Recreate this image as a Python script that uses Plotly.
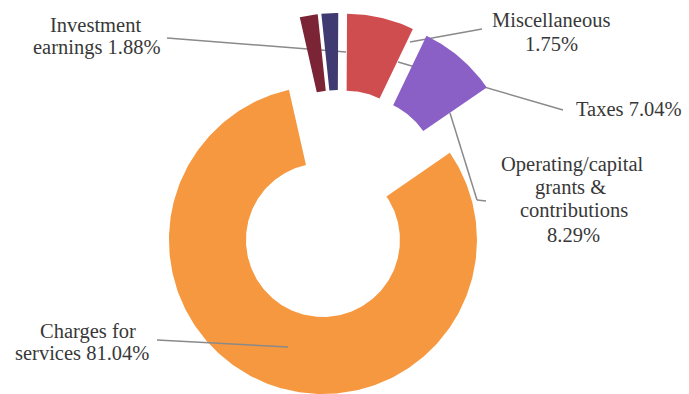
import math
import plotly.graph_objects as go

# Revenue sources, in the order the ring is drawn (clockwise)
categories = [
    "Charges for services",
    "Investment earnings",
    "Miscellaneous",
    "Taxes",
    "Operating/capital grants & contributions",
]
shares = [81.04, 1.88, 1.75, 7.04, 8.29]

# Label text lines for each slice
label_lines = {
    "Charges for services": ["Charges for", "services 81.04%"],
    "Investment earnings": ["Investment", "earnings 1.88%"],
    "Miscellaneous": ["Miscellaneous", "1.75%"],
    "Taxes": ["Taxes 7.04%"],
    "Operating/capital grants & contributions": ["Operating/capital", "grants &", "contributions", "8.29%"],
}

# ---- styling / layout -------------------------------------------------------
colors = ["#F6983F", "#7A2435", "#3F3A72", "#CF4D4F", "#8A60C6"]
explode = [0.286, 0.208, 0.208, 0.208, 0.208]   # offset along the slice bisector, in outer radii
hole = 0.5
start_angle = 55.5                              # degrees clockwise from 12 o'clock

W, H = 689, 394
CX, CY, RPX = 339, 199, 154                     # pie centre and outer radius in pixels

x_range = [-CX / RPX, (W - CX) / RPX]
y_range = [-(H - CY) / RPX, CY / RPX]


def to_data(px, py):
    return (px - CX) / RPX, (CY - py) / RPX


def ring_slice(a0, a1, dx, dy, n):
    xs, ys = [], []
    for i in range(n + 1):
        a = math.radians(a0 + (a1 - a0) * i / n)
        xs.append(dx + math.sin(a))
        ys.append(dy + math.cos(a))
    for i in range(n + 1):
        a = math.radians(a1 - (a1 - a0) * i / n)
        xs.append(dx + hole * math.sin(a))
        ys.append(dy + hole * math.cos(a))
    xs.append(xs[0])
    ys.append(ys[0])
    return xs, ys


fig = go.Figure()

total = sum(shares)
angle = start_angle
for name, val, col, pull in zip(categories, shares, colors, explode):
    span = val / total * 360.0
    mid = math.radians(angle + span / 2)
    dx, dy = pull * math.sin(mid), pull * math.cos(mid)
    xs, ys = ring_slice(angle, angle + span, dx, dy, max(8, int(span)))
    fig.add_trace(go.Scatter(
        x=xs, y=ys, mode="lines", fill="toself",
        fillcolor=col, line=dict(width=0, color=col),
        name=name, hoverinfo="name", showlegend=False,
    ))
    angle += span

# ---- leader lines (pixel positions) ----------------------------------------
leaders = [
    ([(167, 38), (346, 52)], "below"),
    ([(482, 29), (410, 42)], "below"),
    ([(563, 110), (398, 62)], "below"),
    ([(450, 113), (477, 200), (486, 201)], "below"),
    ([(157, 340), (288, 347)], "above"),
]
for pts, layer in leaders:
    for (p0, p1) in zip(pts[:-1], pts[1:]):
        x0, y0 = to_data(*p0)
        x1, y1 = to_data(*p1)
        fig.add_shape(type="line", x0=x0, y0=y0, x1=x1, y1=y1,
                      xref="x", yref="y", layer=layer,
                      line=dict(color="#8A8A8A", width=1.5))

# ---- label text (pixel anchor of each line) --------------------------------
label_pos = {
    "Charges for services": [(88, 331, "center"), (82, 353, "center")],
    "Investment earnings": [(95, 25, "center"), (97, 47, "center")],
    "Miscellaneous": [(551, 20, "center"), (551, 44, "center")],
    "Taxes": [(574, 109, "left")],
    "Operating/capital grants & contributions": [
        (572, 164, "center"), (570, 187, "center"),
        (574, 210, "center"), (573, 235, "center")],
}
for name in categories:
    for text, (px, py, anchor) in zip(label_lines[name], label_pos[name]):
        x, y = to_data(px, py)
        fig.add_annotation(
            x=x, y=y, xref="x", yref="y", text=text, showarrow=False,
            xanchor=anchor, yanchor="middle",
            font=dict(family="Liberation Serif", size=20.5, color="#383838"),
        )

fig.update_xaxes(range=x_range, visible=False, fixedrange=True)
fig.update_yaxes(range=y_range, visible=False, fixedrange=True)
fig.update_layout(
    width=W, height=H,
    margin=dict(l=0, r=0, t=0, b=0),
    paper_bgcolor="white", plot_bgcolor="white",
    showlegend=False,
)

fig.write_html("out.html")
